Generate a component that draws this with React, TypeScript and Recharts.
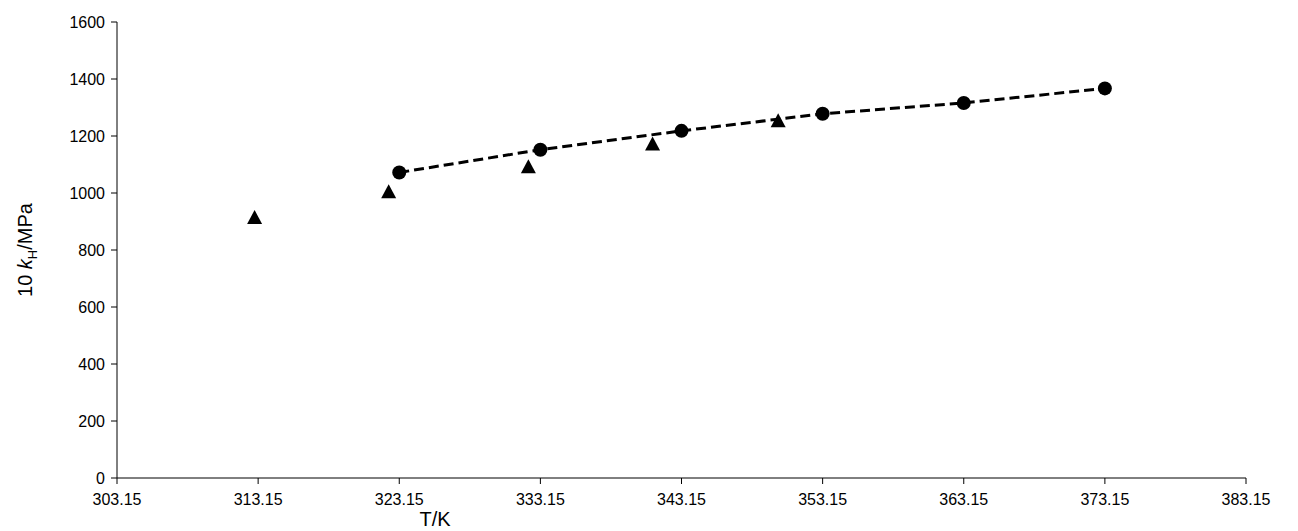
import { ScatterChart, Scatter, XAxis, YAxis } from 'recharts';

const xTicks = [303.15, 313.15, 323.15, 333.15, 343.15, 353.15, 363.15, 373.15, 383.15];
const yTicks = [0, 200, 400, 600, 800, 1000, 1200, 1400, 1600];

const triT = [312.9, 322.4, 332.3, 341.1, 350.0];
const triK = [912, 1003, 1090, 1170, 1252];

const circT = [323.15, 333.15, 343.15, 353.15, 363.15, 373.15];
const circK = [1072, 1152, 1218, 1278, 1316, 1367];

const triangles = triT.map((t, i) => ({ t, k: triK[i] }));
const circles = circT.map((t, i) => ({ t, k: circK[i] }));

const font = '"Liberation Sans", Arial, sans-serif';
const tick = { fill: '#000', fontSize: 16, fontFamily: font };

const YLabel = () => (
  <text x={0} y={0} transform="translate(32,250) rotate(-90)" textAnchor="middle" fontFamily={font} fontSize={20} fill="#000">
    10 <tspan fontStyle="italic">k</tspan>
    <tspan fontSize={13} dy={5}>H</tspan>
    <tspan dy={-5}>/MPa</tspan>
  </text>
);

const XLabel = () => (
  <text x={435} y={526} textAnchor="middle" fontFamily={font} fontSize={20} fill="#000">T/K</text>
);

const Tri = (p: any) => (
  <path d={`M${p.cx},${p.cy - 8} L${p.cx + 7.5},${p.cy + 6} L${p.cx - 7.5},${p.cy + 6} Z`} fill="#000" />
);
const Dot = (p: any) => <circle cx={p.cx} cy={p.cy} r={7} fill="#000" />;

export default function App() {
  return (
    <div style={{ position: 'absolute', left: 0, top: 0 }}>
      <ScatterChart width={1298} height={531} margin={{ top: 22, right: 52, bottom: 23, left: 57 }}>
        <XAxis
          type="number"
          dataKey="t"
          domain={[303.15, 383.15]}
          ticks={xTicks}
          tickFormatter={(v: number) => v.toFixed(2)}
          tick={{ ...tick, dy: 8 }}
          stroke="#000"
          tickSize={6}
          height={30}
          label={<XLabel />}
        />
        <YAxis
          type="number"
          dataKey="k"
          domain={[0, 1600]}
          ticks={yTicks}
          tick={{ ...tick, dx: -4 }}
          stroke="#000"
          tickSize={6}
          width={60}
          label={<YLabel />}
        />
        <Scatter data={triangles} shape={Tri} fill="#000" isAnimationActive={false} />
        <Scatter
          data={circles}
          shape={Dot}
          fill="#000"
          line={{ stroke: '#000', strokeWidth: 3, strokeDasharray: '10 5' }}
          isAnimationActive={false}
        />
      </ScatterChart>
    </div>
  );
}
